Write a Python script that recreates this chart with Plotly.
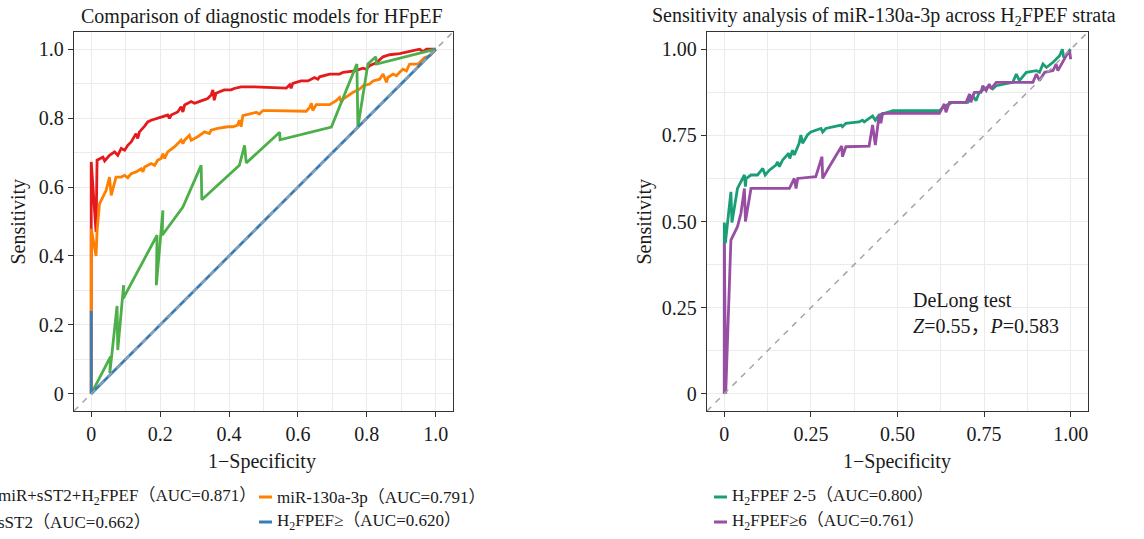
import plotly.graph_objects as go

W, H = 1144, 539
FONT = "Liberation Serif, Noto Sans CJK SC, serif"

# ---------------- Left panel: ROC curves of diagnostic models ----------------
red_fpr = [0, 0, 0.014, 0.017, 0.034, 0.039, 0.053, 0.068, 0.077, 0.087, 0.097, 0.106, 0.116, 0.126, 0.130,
           0.135, 0.140, 0.155, 0.164, 0.174, 0.203, 0.222, 0.227, 0.232, 0.251, 0.261, 0.266, 0.271, 0.290,
           0.300, 0.319, 0.338, 0.348, 0.353, 0.357, 0.362, 0.386, 0.406, 0.415, 0.435, 0.473, 0.566, 0.576,
           0.580, 0.585, 0.609, 0.629, 0.648, 0.658, 0.663, 0.692, 0.721, 0.731, 0.765, 0.789, 0.798, 0.808,
           0.828, 0.847, 0.866, 0.895, 0.934, 0.953, 0.963, 0.973, 1.0]
red_tpr = [0, 0.673, 0.47, 0.678, 0.687, 0.676, 0.692, 0.702, 0.692, 0.712, 0.707, 0.721, 0.731, 0.746, 0.755,
           0.741, 0.760, 0.777, 0.789, 0.794, 0.804, 0.809, 0.799, 0.809, 0.818, 0.833, 0.818, 0.838, 0.848,
           0.843, 0.850, 0.857, 0.867, 0.882, 0.852, 0.872, 0.882, 0.882, 0.886, 0.891, 0.891, 0.887, 0.897,
           0.887, 0.901, 0.908, 0.908, 0.918, 0.913, 0.920, 0.928, 0.928, 0.933, 0.937, 0.945, 0.942, 0.952,
           0.961, 0.978, 0.984, 0.987, 0.995, 1.0, 0.993, 1.0, 1.0]

orange_fpr = [0, 0, 0.014, 0.017, 0.024, 0.034, 0.043, 0.053, 0.058, 0.072, 0.087, 0.097, 0.106, 0.116, 0.130,
              0.145, 0.150, 0.155, 0.174, 0.184, 0.193, 0.203, 0.208, 0.213, 0.222, 0.242, 0.261, 0.266, 0.271,
              0.285, 0.290, 0.309, 0.329, 0.343, 0.348, 0.367, 0.396, 0.411, 0.425, 0.430, 0.435, 0.440, 0.479,
              0.488, 0.498, 0.527, 0.624, 0.634, 0.639, 0.643, 0.653, 0.692, 0.711, 0.721, 0.726, 0.731, 0.760,
              0.779, 0.789, 0.808, 0.818, 0.837, 0.847, 0.857, 0.861, 0.876, 0.886, 0.895, 0.905, 0.915, 0.924,
              0.949, 0.958, 0.968, 0.983, 1.0]
orange_tpr = [0, 0.479, 0.40, 0.474, 0.551, 0.571, 0.590, 0.629, 0.576, 0.629, 0.629, 0.634, 0.627, 0.639, 0.644,
              0.653, 0.644, 0.658, 0.668, 0.663, 0.678, 0.683, 0.697, 0.683, 0.702, 0.717, 0.736, 0.726, 0.736,
              0.750, 0.736, 0.746, 0.760, 0.755, 0.765, 0.770, 0.775, 0.775, 0.780, 0.794, 0.775, 0.807, 0.817,
              0.812, 0.822, 0.822, 0.820, 0.831, 0.843, 0.822, 0.839, 0.839, 0.851, 0.860, 0.846, 0.855, 0.875,
              0.884, 0.894, 0.899, 0.908, 0.913, 0.928, 0.904, 0.918, 0.928, 0.923, 0.933, 0.942, 0.937, 0.957,
              0.957, 0.966, 0.976, 0.981, 1.0]

green_fpr = [0, 0.056, 0.054, 0.075, 0.077, 0.094, 0.093, 0.191, 0.189, 0.208, 0.206, 0.266, 0.319, 0.321,
             0.430, 0.445, 0.450, 0.547, 0.548, 0.697, 0.771, 0.774, 0.803, 0.826, 0.828, 1.0]
green_tpr = [0, 0.108, 0.060, 0.255, 0.127, 0.315, 0.277, 0.460, 0.315, 0.532, 0.460, 0.542, 0.663, 0.563,
             0.663, 0.721, 0.670, 0.759, 0.737, 0.774, 0.957, 0.774, 0.957, 0.978, 0.957, 1.0]

blue_fpr = [0, 0, 0, 1.0]
blue_tpr = [0, 0.24, 0, 1.0]

left_names = ["miR+sST2+H<sub>2</sub>FPEF（AUC=0.871）", "miR-130a-3p（AUC=0.791）",
              "sST2（AUC=0.662）", "H<sub>2</sub>FPEF≥（AUC=0.620）"]
left_colors = ["#E41A1C", "#FF7F00", "#4DAF4A", "#377EB8"]

# ---------------- Right panel: miR-130a-3p across H2FPEF strata ----------------
teal_fpr = [0, 0, 0.003, 0.019, 0.022, 0.038, 0.058, 0.061, 0.063, 0.077, 0.096, 0.111, 0.118, 0.130, 0.149,
            0.154, 0.159, 0.168, 0.186, 0.189, 0.197, 0.202, 0.216, 0.221, 0.226, 0.240, 0.250, 0.264, 0.279,
            0.284, 0.293, 0.337, 0.341, 0.351, 0.389, 0.399, 0.404, 0.418, 0.428, 0.436, 0.447, 0.476, 0.486,
            0.505, 0.621, 0.640, 0.659, 0.703, 0.717, 0.727, 0.736, 0.765, 0.775, 0.785, 0.833, 0.843, 0.852,
            0.872, 0.901, 0.910, 0.920, 0.930, 0.949, 0.968, 0.976, 0.980, 1.0]
teal_tpr = [0, 0.497, 0.437, 0.586, 0.497, 0.596, 0.635, 0.601, 0.625, 0.635, 0.635, 0.654, 0.635, 0.649, 0.664,
            0.673, 0.659, 0.678, 0.698, 0.683, 0.707, 0.693, 0.727, 0.751, 0.727, 0.751, 0.760, 0.765, 0.770,
            0.760, 0.770, 0.780, 0.775, 0.785, 0.789, 0.794, 0.789, 0.799, 0.806, 0.794, 0.809, 0.818, 0.822,
            0.822, 0.822, 0.837, 0.846, 0.846, 0.865, 0.851, 0.875, 0.894, 0.885, 0.894, 0.904, 0.928, 0.909,
            0.933, 0.938, 0.933, 0.957, 0.947, 0.962, 0.981, 1.0, 0.976, 1.0]

purple_fpr = [0, 0, 0.004, 0.019, 0.038, 0.048, 0.058, 0.061, 0.077, 0.188, 0.202, 0.207, 0.212, 0.264, 0.282,
              0.284, 0.303, 0.322, 0.339, 0.341, 0.351, 0.418, 0.428, 0.436, 0.447, 0.452, 0.457, 0.495, 0.621,
              0.635, 0.640, 0.650, 0.698, 0.708, 0.712, 0.722, 0.741, 0.746, 0.756, 0.765, 0.770, 0.785, 0.891,
              0.901, 0.910, 0.925, 0.949, 0.958, 0.963, 0.987, 0.997, 1.0]
purple_tpr = [0, 0.437, 0, 0.446, 0.485, 0.524, 0.596, 0.500, 0.596, 0.596, 0.625, 0.596, 0.625, 0.630, 0.688,
              0.625, 0.659, 0.693, 0.719, 0.688, 0.717, 0.719, 0.780, 0.722, 0.809, 0.785, 0.814, 0.814, 0.814,
              0.841, 0.817, 0.846, 0.846, 0.870, 0.846, 0.875, 0.875, 0.894, 0.880, 0.899, 0.885, 0.904, 0.904,
              0.928, 0.909, 0.933, 0.938, 0.957, 0.938, 0.981, 0.995, 0.971]

right_names = ["H<sub>2</sub>FPEF 2-5（AUC=0.800）", "H<sub>2</sub>FPEF≥6（AUC=0.761）"]
right_colors = ["#1B9E77", "#984EA3"]

axis_range = [-0.05, 1.05]
left_ticks = [0, 0.2, 0.4, 0.6, 0.8, 1.0]
left_ticktext = ["0", "0.2", "0.4", "0.6", "0.8", "1.0"]
left_minor = [0.1, 0.3, 0.5, 0.7, 0.9]
right_ticks = [0, 0.25, 0.5, 0.75, 1.0]
right_ticktext = ["0", "0.25", "0.50", "0.75", "1.00"]
right_minor = [0.125, 0.375, 0.625, 0.875]

titles = ["Comparison of diagnostic models for HFpEF",
          "Sensitivity analysis of miR-130a-3p across H<sub>2</sub>FPEF strata"]
delong_text = "DeLong test<br><i>Z</i>=0.55，<i>P</i>=0.583"

# ---------------- figure ----------------
fig = go.Figure()
LW = 2.8
for fx, ty, c, n in zip([red_fpr, orange_fpr, green_fpr, blue_fpr],
                        [red_tpr, orange_tpr, green_tpr, blue_tpr], left_colors, left_names):
    fig.add_trace(go.Scatter(x=fx, y=ty, mode="lines", line=dict(color=c, width=LW),
                             name=n, showlegend=False, xaxis="x", yaxis="y"))
for fx, ty, c, n in zip([teal_fpr, purple_fpr], [teal_tpr, purple_tpr], right_colors, right_names):
    fig.add_trace(go.Scatter(x=fx, y=ty, mode="lines", line=dict(color=c, width=LW),
                             name=n, showlegend=False, xaxis="x2", yaxis="y2"))


def px2x(p):
    return p / W


def px2y(p):
    return 1 - p / H


ydom = [px2y(411), px2y(32)]
GRID = "#EBEBEB"
LINEC = "#333333"
TXT = "#1a1a1a"


def axis(dom, ticks, ttext, minor, anchor):
    return dict(domain=dom, range=axis_range, tickvals=ticks, ticktext=ttext,
                ticks="outside", ticklen=5, tickcolor=LINEC, tickwidth=1,
                showline=True, mirror=True, linecolor=LINEC, linewidth=1.3,
                showgrid=True, gridcolor=GRID, gridwidth=1.4, zeroline=False,
                minor=dict(tickvals=minor, showgrid=True, gridcolor=GRID, gridwidth=0.9, ticks=""),
                tickfont=dict(family=FONT, size=20, color=TXT), anchor=anchor, fixedrange=True)


fig.update_layout(
    width=W, height=H, margin=dict(l=0, r=0, t=0, b=0),
    paper_bgcolor="white", plot_bgcolor="white", showlegend=False,
    font=dict(family=FONT, color=TXT),
    xaxis=axis([px2x(74), px2x(453)], left_ticks, left_ticktext, left_minor, "y"),
    yaxis=axis(ydom, left_ticks, left_ticktext, left_minor, "x"),
    xaxis2=axis([px2x(707), px2x(1088)], right_ticks, right_ticktext, right_minor, "y2"),
    yaxis2=axis(ydom, right_ticks, right_ticktext, right_minor, "x2"),
)

# diagonal reference lines (y = x across the full axis range)
for xr, yr in [("x", "y"), ("x2", "y2")]:
    fig.add_shape(type="line", xref=xr, yref=yr, x0=axis_range[0], y0=axis_range[0],
                  x1=axis_range[1], y1=axis_range[1],
                  line=dict(color="#A6A6A6", width=1.5, dash="6px,6px"), layer="above")

anns = []
# titles
for cx, t in zip([262, 884], titles):
    anns.append(dict(text=t, x=px2x(cx), y=px2y(17), xref="paper", yref="paper",
                     showarrow=False, xanchor="center", yanchor="middle",
                     font=dict(family=FONT, size=20, color=TXT)))
# axis titles
for cx in [262, 897.5]:
    anns.append(dict(text="1−Specificity", x=px2x(cx), y=px2y(461), xref="paper", yref="paper",
                     showarrow=False, xanchor="center", yanchor="middle",
                     font=dict(family=FONT, size=20, color=TXT)))
for cx in [18, 644]:
    anns.append(dict(text="Sensitivity", x=px2x(cx), y=px2y(221.5), xref="paper", yref="paper",
                     showarrow=False, xanchor="center", yanchor="middle", textangle=-90,
                     font=dict(family=FONT, size=20, color=TXT)))
# DeLong annotation
anns.append(dict(text=delong_text, x=0.539, y=0.235, xref="x2", yref="y2", showarrow=False,
                 xanchor="left", yanchor="middle", align="left",
                 font=dict(family=FONT, size=20, color=TXT)))

# legends built from names & colours
LEG_SIZE = 17
leg_pos = [(-4, 497), (275, 497), (-4, 522), (275, 522)]
for (lx, ly), n, c in zip(leg_pos, left_names, left_colors):
    anns.append(dict(text=n, x=px2x(lx), y=px2y(ly), xref="paper", yref="paper", showarrow=False,
                     xanchor="left", yanchor="middle", font=dict(family=FONT, size=LEG_SIZE, color=TXT)))
    fig.add_shape(type="line", xref="paper", yref="paper", x0=px2x(lx - 16), x1=px2x(lx - 3),
                  y0=px2y(ly), y1=px2y(ly), line=dict(color=c, width=3))
for (lx, ly), n, c in zip([(730, 497), (730, 522)], right_names, right_colors):
    anns.append(dict(text=n, x=px2x(lx), y=px2y(ly), xref="paper", yref="paper", showarrow=False,
                     xanchor="left", yanchor="middle", font=dict(family=FONT, size=LEG_SIZE, color=TXT)))
    fig.add_shape(type="line", xref="paper", yref="paper", x0=px2x(lx - 16), x1=px2x(lx - 3),
                  y0=px2y(ly), y1=px2y(ly), line=dict(color=c, width=3))

fig.update_layout(annotations=anns)
fig.write_html("out.html", config={"displayModeBar": False},
               post_script="document.body.style.margin='0';")
